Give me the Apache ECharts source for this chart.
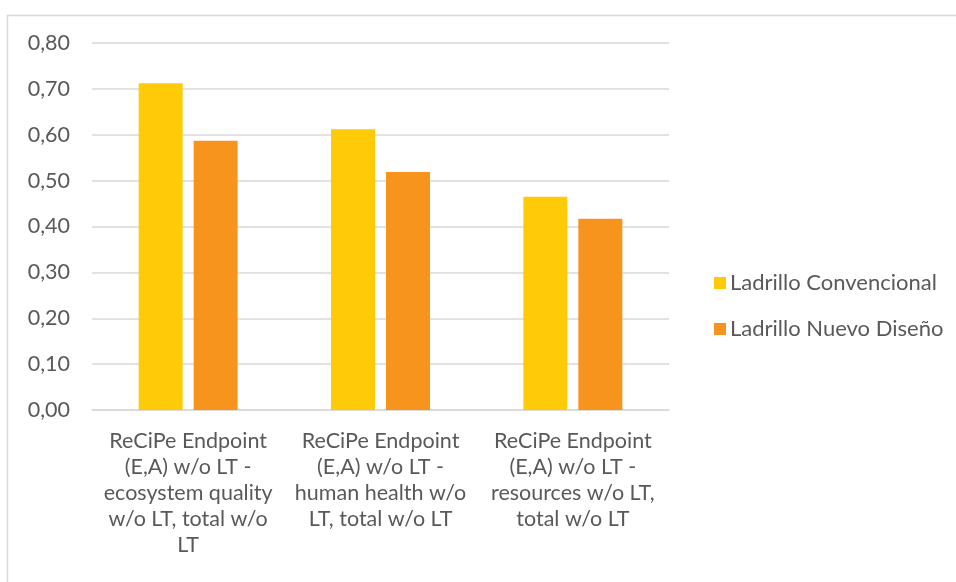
<!DOCTYPE html>
<html>
<head>
<meta charset="utf-8">
<style>
  html, body { margin: 0; padding: 0; background: #ffffff; }
  #chart { width: 956px; height: 582px; }
</style>
<script src="https://cdn.jsdelivr.net/npm/echarts@6/dist/echarts.min.js"></script>
</head>
<body>
<div id="chart"></div>
<script>
// Impact categories (ReCiPe Endpoint, E/A, without long-term emissions)
const categories = [
  'ReCiPe Endpoint\n(E,A) w/o LT -\necosystem quality\nw/o LT, total w/o\nLT',
  'ReCiPe Endpoint\n(E,A) w/o LT -\nhuman health w/o\nLT, total w/o LT',
  'ReCiPe Endpoint\n(E,A) w/o LT -\nresources w/o LT,\ntotal w/o LT'
];
const seriesNames = ['Ladrillo Convencional', 'Ladrillo Nuevo Diseño'];
const convencional = [0.712, 0.612, 0.465];
const nuevoDiseno = [0.587, 0.519, 0.417];
const yTicks = [0, 0.1, 0.2, 0.3, 0.4, 0.5, 0.6, 0.7, 0.8];

const FONT = 'Lato, "Open Sans", sans-serif';
const TEXT = '#595959';
const GRID = '#d9d9d9';
const FS = 21.5;

const chart = echarts.init(document.getElementById('chart'), null, { renderer: 'canvas' });
chart.setOption({
  backgroundColor: '#ffffff',
  animation: false,
  textStyle: { fontFamily: FONT },
  graphic: [{
    type: 'rect',
    left: 5, top: 13,
    shape: { width: 1000, height: 620 },
    style: { fill: 'none', stroke: GRID, lineWidth: 1.5 },
    silent: true
  }],
  grid: { left: 92, right: 287, top: 43, bottom: 172, containLabel: false },
  legend: {
    orient: 'vertical',
    left: 709, top: 267,
    itemWidth: 12, itemHeight: 12, itemGap: 24,
    icon: 'rect',
    data: seriesNames,
    textStyle: { color: TEXT, fontSize: 22, fontFamily: FONT, padding: [0, 0, 0, -1] }
  },
  xAxis: {
    type: 'category',
    data: categories,
    axisLine: { show: true, lineStyle: { color: GRID, width: 1.5 } },
    axisTick: { show: false },
    axisLabel: {
      interval: 0, color: TEXT, fontSize: FS, fontFamily: FONT,
      lineHeight: 26, margin: 18, align: 'center'
    }
  },
  yAxis: {
    type: 'value',
    min: yTicks[0], max: yTicks[yTicks.length - 1], interval: 0.1,
    axisLine: { show: false },
    axisTick: { show: false },
    splitLine: { lineStyle: { color: GRID, width: 1.5 } },
    axisLabel: {
      color: TEXT, fontSize: FS, fontFamily: FONT, margin: 22,
      formatter: v => v.toFixed(2).replace('.', ',')
    }
  },
  series: [
    {
      name: seriesNames[0], type: 'bar', data: convencional,
      barWidth: 44, barGap: '25%',
      itemStyle: { color: '#FFCA08' }
    },
    {
      name: seriesNames[1], type: 'bar', data: nuevoDiseno,
      barWidth: 44, barGap: '25%',
      itemStyle: { color: '#F7941E' }
    }
  ]
});
</script>
</body>
</html>
